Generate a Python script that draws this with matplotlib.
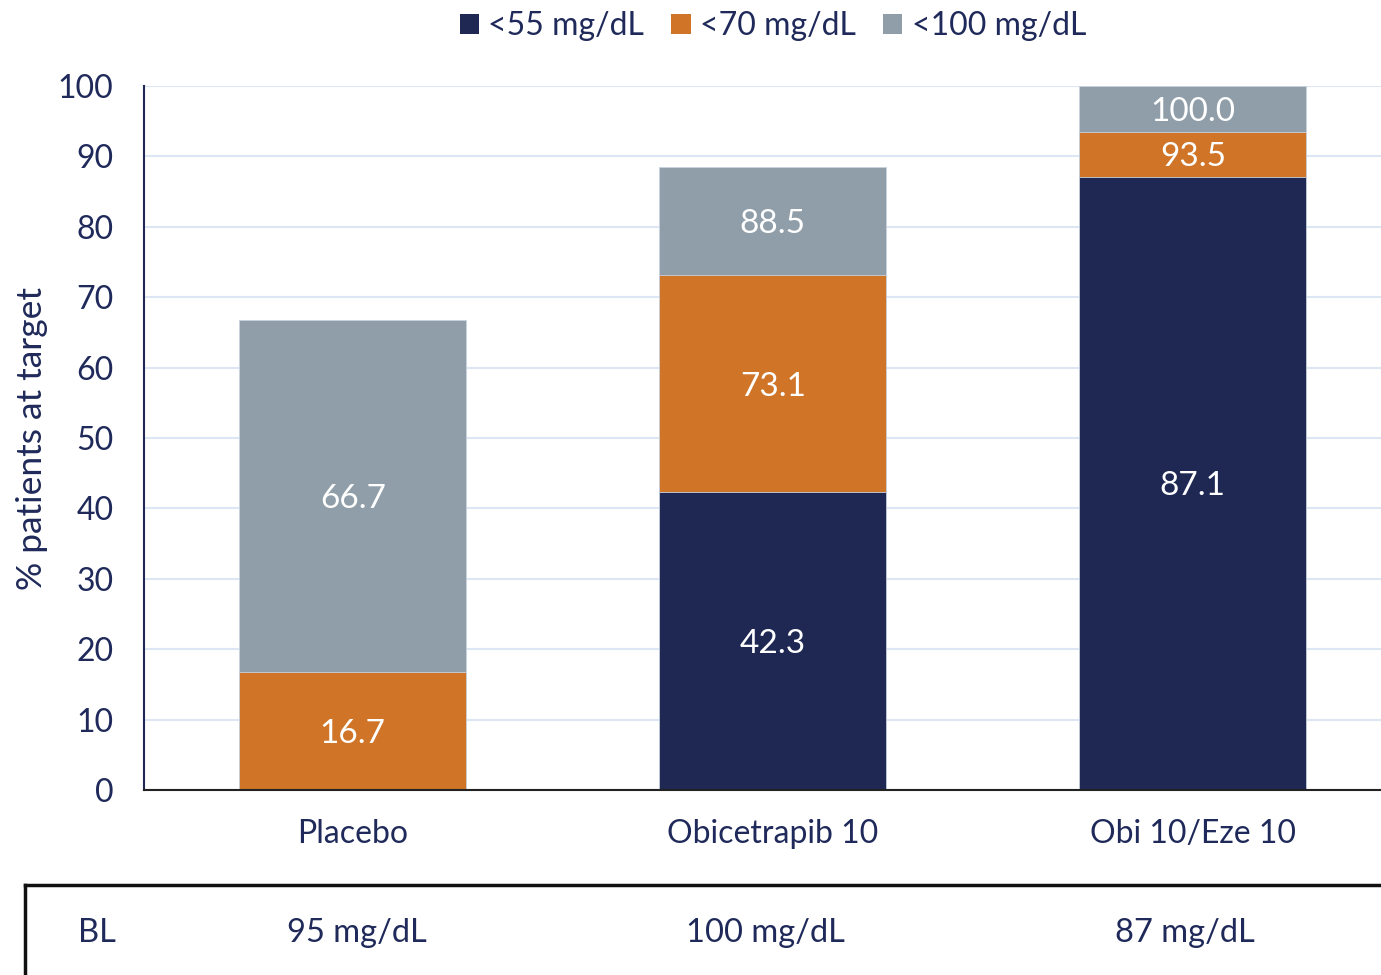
import matplotlib.pyplot as plt
from matplotlib.lines import Line2D
from matplotlib.patches import Patch

plt.rcParams['font.family'] = ['Lato', 'DejaVu Sans']

groups = ["Placebo", "Obicetrapib 10", "Obi 10/Eze 10"]
baseline = ["95 mg/dL", "100 mg/dL", "87 mg/dL"]
# cumulative % of patients reaching each LDL-C target
lt55 = [0.0, 42.3, 87.1]
lt70 = [16.7, 73.1, 93.5]
lt100 = [66.7, 88.5, 100.0]
series_names = ["<55 mg/dL", "<70 mg/dL", "<100 mg/dL"]

NAVY = "#1e2853"
ORANGE = "#d07527"
GREY = "#8f9ea8"
TEXT = "#1f2a5a"
GRID = "#dce6f5"

fig = plt.figure(figsize=(13.81, 9.75), dpi=100)
ax = fig.add_axes([144 / 1381, 1 - 790 / 975, 1 - 144 / 1381, (790 - 86) / 975])

x = list(range(len(groups)))
w = 0.54
levels = [lt55, lt70, lt100]
colors = [NAVY, ORANGE, GREY]

# draw the largest band first so the smaller ones sit on top of it
for vals, col in zip(levels[::-1], colors[::-1]):
    ax.bar(x, vals, width=w, color=col, edgecolor="#c9d3df", linewidth=0.6, zorder=2)

# labels in the middle of each band
for i in x:
    lower = 0.0
    for vals in levels:
        v = vals[i]
        if v > lower:
            ax.text(i, (lower + v) / 2, f"{v:.1f}", ha="center", va="center_baseline",
                    color="white", fontsize=24, zorder=3)
            lower = v

ax.set_xlim(-0.497, 2.448)
ax.set_ylim(0, 100)
ax.set_yticks(range(0, 101, 10))
ax.yaxis.grid(True, color=GRID, linewidth=1.5, zorder=0)
ax.set_axisbelow(True)
ax.tick_params(axis="y", length=0, labelsize=23, labelcolor=TEXT, pad=22)
ax.tick_params(axis="x", length=0, labelsize=23, labelcolor=TEXT, pad=21)
ax.set_xticks(x)
ax.set_xticklabels(groups)
for s in ["top", "right"]:
    ax.spines[s].set_visible(False)
ax.spines["left"].set_color(NAVY)
ax.spines["left"].set_linewidth(1.5)
ax.spines["bottom"].set_color("#222222")
ax.spines["bottom"].set_linewidth(1.5)

fig.text(32 / 1381, 1 - 438 / 975, "% patients at target", rotation=90,
         ha="center", va="center", color=TEXT, fontsize=25.5)

handles = [Patch(facecolor=c, edgecolor="none") for c in colors]
fig.legend(handles, series_names, loc="center", bbox_to_anchor=(773 / 1381, 1 - 26 / 975),
           ncol=3, frameon=False, fontsize=23, labelcolor=TEXT, handlelength=0.6,
           handleheight=0.6, handletextpad=0.3, columnspacing=0.85)

# baseline row under the chart
fig.add_artist(Line2D([25 / 1381, 1], [1 - 885 / 975] * 2, color="#111111", linewidth=2.5,
                      transform=fig.transFigure))
fig.add_artist(Line2D([25 / 1381] * 2, [1 - 885 / 975, 0], color="#111111", linewidth=2.5,
                      transform=fig.transFigure))
fig.text(97 / 1381, 1 - 933 / 975, "BL", ha="center", va="center", color=TEXT, fontsize=23.5)
for cx, lab in zip([357, 765, 1185], baseline):
    fig.text(cx / 1381, 1 - 933 / 975, lab, ha="center", va="center", color=TEXT, fontsize=23.5)

fig.savefig("out.png", dpi=100)
